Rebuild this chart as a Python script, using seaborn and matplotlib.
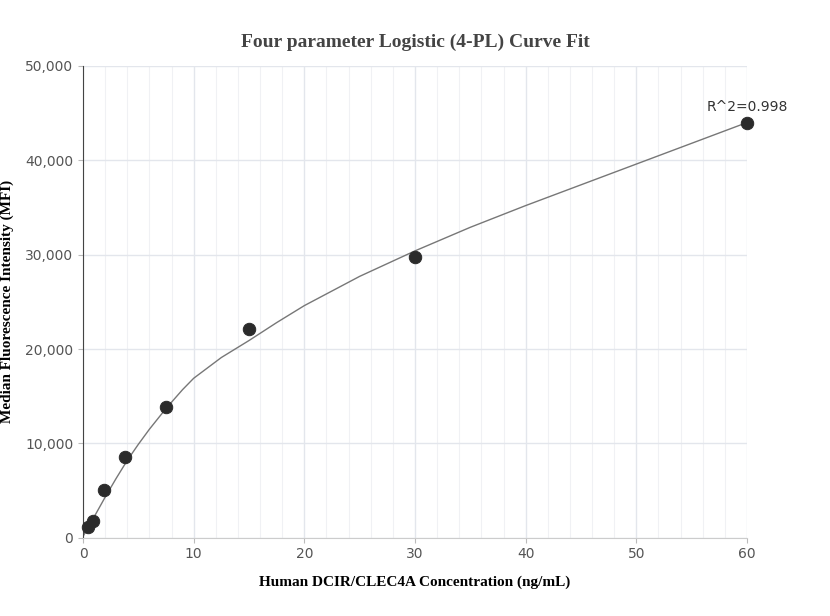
import numpy as np
import pandas as pd
import seaborn as sns
import matplotlib.pyplot as plt
from matplotlib.ticker import FuncFormatter, MultipleLocator

# Measured standards
conc = [0.47, 0.94, 1.875, 3.75, 7.5, 15, 30, 60]
mfi = [1100, 1800, 5100, 8600, 13900, 22100, 29700, 44000]

# Fitted curve
curve_x = [0, 0.5, 1, 2, 3, 4, 5, 6, 7.5, 9, 10, 12.5, 15, 17.5, 20, 25, 30, 35, 40, 50, 60]
curve_y = [150, 1150, 2200, 4300, 6300, 8200, 9900, 11500, 13700, 15700, 16900, 19100, 20900,
           22800, 24600, 27700, 30400, 32900, 35200, 39600, 44000]

pts = pd.DataFrame({'conc': conc, 'mfi': mfi})
fit = pd.DataFrame({'x': curve_x, 'y': curve_y})

fig = plt.figure(figsize=(8.3, 6.16), dpi=100)
ax = fig.add_axes([0.1, 0.127, 0.8, 0.766])

sns.lineplot(data=fit, x='x', y='y', ax=ax, color='#777777', linewidth=1)
sns.scatterplot(data=pts, x='conc', y='mfi', ax=ax, color='#2b2b2b', s=80,
                edgecolor='#2b2b2b', zorder=5, clip_on=False)

ax.set_xlim(0, 60)
ax.set_ylim(0, 50000)
ax.xaxis.set_major_locator(MultipleLocator(10))
ax.xaxis.set_minor_locator(MultipleLocator(2))
ax.yaxis.set_major_locator(MultipleLocator(10000))
ax.yaxis.set_major_formatter(FuncFormatter(lambda v, p: f'{int(v):,}'))
ax.grid(True, which='major', color='#e3e6ec', linewidth=1)
ax.grid(True, which='minor', axis='x', color='#f0f1f4', linewidth=0.8)
ax.set_axisbelow(True)
for s in ['top', 'right']:
    ax.spines[s].set_visible(False)
ax.spines['left'].set_color('#444444')
ax.spines['bottom'].set_color('#cccccc')
ax.tick_params(axis='both', which='both', labelcolor='#555555', color='#bbbbbb', labelsize=10)
ax.tick_params(axis='x', which='minor', length=0)

ax.set_xlabel('Human DCIR/CLEC4A Concentration (ng/mL)', fontfamily='Liberation Serif',
              fontweight='bold', fontsize=11, labelpad=10)
ax.set_ylabel('Median Fluorescence Intensity (MFI)', fontfamily='Liberation Serif',
              fontweight='bold', fontsize=11, labelpad=8)
ax.set_title('Four parameter Logistic (4-PL) Curve Fit', fontfamily='Liberation Serif',
             fontweight='bold', fontsize=14, color='#444444', pad=14)
ax.text(60, 44900, 'R^2=0.998', ha='center', va='bottom', fontsize=10, color='#333333')

fig.savefig('out.png', dpi=100)
